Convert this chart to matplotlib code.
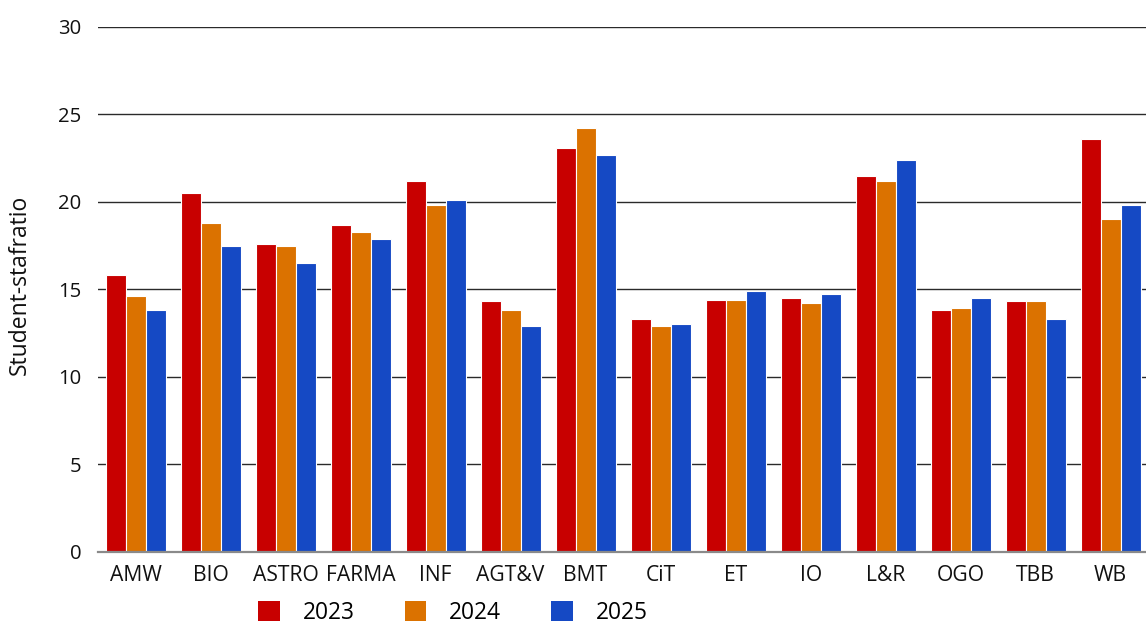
import matplotlib
matplotlib.use("Agg")
import matplotlib.pyplot as plt
import numpy as np

categories = ["AMW", "BIO", "ASTRO", "FARMA", "INF", "AGT&V", "BMT", "CiT",
              "ET", "IO", "L&R", "OGO", "TBB", "WB"]
years = ["2023", "2024", "2025"]
v2023 = [15.8, 20.5, 17.6, 18.7, 21.2, 14.3, 23.1, 13.3, 14.4, 14.5, 21.5, 13.8, 14.3, 23.6]
v2024 = [14.6, 18.8, 17.5, 18.3, 19.8, 13.8, 24.2, 12.9, 14.4, 14.2, 21.2, 13.9, 14.3, 19.0]
v2025 = [13.8, 17.5, 16.5, 17.9, 20.1, 12.9, 22.7, 13.0, 14.9, 14.7, 22.4, 14.5, 13.3, 19.8]
yticks = [0, 5, 10, 15, 20, 25, 30]
colors = ["#C80000", "#DB7200", "#1549C4"]

plt.rcParams['font.family'] = ['Open Sans', 'DejaVu Sans']

W, H = 1146, 625
fig = plt.figure(figsize=(W / 100, H / 100), dpi=100)
ax = fig.add_axes([98 / W, 1 - 551.5 / H, (1146 - 98) / W, (551.5 - 27) / H])

x = np.arange(len(categories))
bw = 0.8 / 3
series = [v2023, v2024, v2025]
for i, (vals, c, lab) in enumerate(zip(series, colors, years)):
    ax.bar(x + (i - 1) * bw, vals, width=bw, color=c, edgecolor="white",
           linewidth=0.8, label=lab, zorder=3)

ax.set_xlim(-0.5, 13.47)
ax.set_ylim(0, 30)
ax.set_yticks(yticks)
ax.set_yticklabels([str(t) for t in yticks], fontsize=14.6, color="#111111")
ax.set_xticks(x)
ax.set_xticklabels(categories, fontsize=15.2, color="#111111")
ax.tick_params(axis="both", length=0)
ax.tick_params(axis="y", pad=12)
ax.tick_params(axis="x", pad=10)

for t in yticks[1:]:
    ax.axhline(t, color="#2a2a2a", linewidth=1.0, zorder=1)

for s in ["top", "right", "left"]:
    ax.spines[s].set_visible(False)
ax.spines["bottom"].set_color("#8a8a8a")
ax.spines["bottom"].set_linewidth(1.6)
ax.spines["bottom"].set_zorder(4)

fig.text(20 / W, 1 - 285 / H, "Student-stafratio", rotation=90, fontsize=16.5,
         ha="center", va="center", color="#111111")

handles, labels = ax.get_legend_handles_labels()
leg = fig.legend(handles, labels, loc="center", ncol=3,
                 bbox_to_anchor=(453 / W, 1 - 613 / H), frameon=False,
                 fontsize=16.4, handlelength=0.95, handleheight=0.95,
                 handletextpad=1.0, columnspacing=2.2, borderpad=0)
for h in leg.legend_handles:
    h.set_edgecolor("none")

fig.savefig("out.png", dpi=100)
